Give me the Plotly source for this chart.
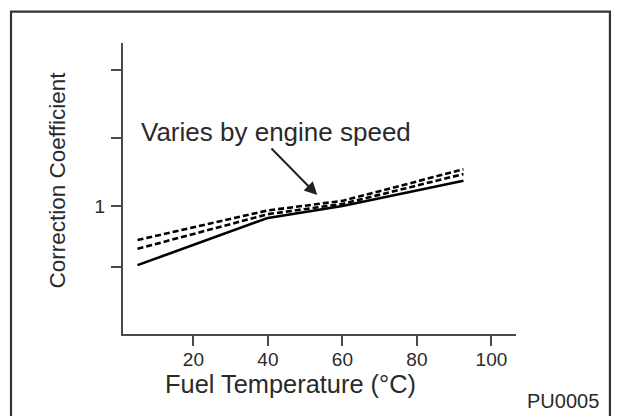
import plotly.graph_objects as go

# Data
temp = [5, 40, 60, 92.5]
solid = [0.826, 0.965, 1.0, 1.074]
dash_low = [0.874, 0.976, 1.006, 1.094]
dash_high = [0.900, 0.987, 1.015, 1.108]

x_ticks = [20, 40, 60, 80, 100]
x_ticktext = ["20", "40", "60", "80", "100"]
y_ticks = [0.82, 1.0, 1.2, 1.4]
y_ticktext = ["", "1", "", ""]

FONT = "Liberation Sans, Arial, Helvetica, sans-serif"
TXT = "#2a2a2a"
AX = "#4a4a4a"

fig = go.Figure()
fig.add_trace(go.Scatter(x=temp, y=solid, mode="lines",
                         line=dict(color="black", width=2.6), showlegend=False))
fig.add_trace(go.Scatter(x=temp, y=dash_low, mode="lines",
                         line=dict(color="black", width=2.6, dash="6px,3px"), showlegend=False))
fig.add_trace(go.Scatter(x=temp, y=dash_high, mode="lines",
                         line=dict(color="black", width=2.6, dash="6px,3px"), showlegend=False))

fig.update_layout(
    width=619, height=416,
    margin=dict(l=123, r=103, t=43, b=82),
    paper_bgcolor="white", plot_bgcolor="white",
    font=dict(family=FONT, color=TXT),
    xaxis=dict(range=[1.1, 106.6], showgrid=False, zeroline=False,
               showline=True, linecolor=AX, linewidth=2,
               ticks="outside", ticklen=10, tickwidth=2, tickcolor=AX,
               tickvals=x_ticks, ticktext=x_ticktext,
               tickfont=dict(size=19, color=TXT, family=FONT), ticklabelstandoff=-3),
    yaxis=dict(range=[0.6235, 1.4794], showgrid=False, zeroline=False,
               showline=True, linecolor=AX, linewidth=2,
               ticks="outside", ticklen=10, tickwidth=2, tickcolor=AX,
               tickvals=y_ticks, ticktext=y_ticktext,
               tickfont=dict(size=19, color=TXT, family=FONT), ticklabelstandoff=2),
    shapes=[dict(type="rect", xref="paper", yref="paper",
                 x0=-0.285, x1=1.239, y0=-0.30, y1=1.108,
                 line=dict(color="#333333", width=2.2), layer="above")],
)

fig.add_annotation(text="Correction Coefficient", xref="paper", yref="paper",
                   x=(56.5 - 123) / 393, y=(334 - 180) / 291, textangle=-90,
                   showarrow=False, font=dict(size=22.5, color=TXT, family=FONT),
                   xanchor="center", yanchor="middle")
fig.add_annotation(text="Fuel Temperature (°C)", xref="paper", yref="paper",
                   x=(290 - 123) / 393, y=(334 - 384) / 291,
                   showarrow=False, font=dict(size=25.4, color=TXT, family=FONT),
                   xanchor="center", yanchor="middle")
fig.add_annotation(text="PU0005", xref="paper", yref="paper",
                   x=(562.5 - 123) / 393, y=(334 - 401.3) / 291,
                   showarrow=False, font=dict(size=20, color=TXT, family=FONT),
                   xanchor="center", yanchor="middle")
fig.add_annotation(text="Varies by engine speed", xref="x", yref="y",
                   x=5.3, y=1.2176, showarrow=False,
                   font=dict(size=26, color=TXT, family=FONT),
                   xanchor="left", yanchor="middle")
fig.add_annotation(text="", xref="x", yref="y", x=53.26, y=1.032,
                   axref="x", ayref="y", ax=40.56, ay=1.1735,
                   showarrow=True, arrowhead=2, arrowsize=1.3, arrowwidth=2,
                   arrowcolor="#222222", standoff=0, startstandoff=0)

fig.write_html("out.html", config={"displayModeBar": False},
               post_script="document.body.style.margin='0';document.body.style.overflow='hidden';")
